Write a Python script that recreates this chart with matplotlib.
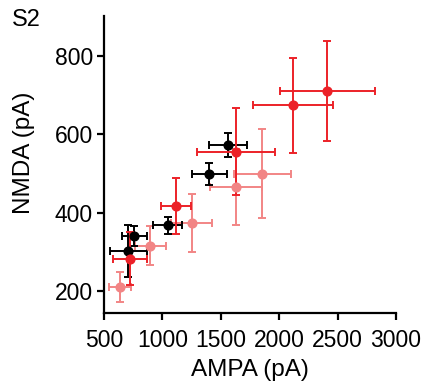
import matplotlib
matplotlib.use("Agg")
import matplotlib.pyplot as plt

plt.rcParams['font.family'] = ['Liberation Sans', 'DejaVu Sans']

# Black series
black_x = [1564, 1402, 1045, 760, 708]
black_y = [573, 500, 368, 340, 303]
black_xerr = [163, 151, 124, 110, 160]
black_yerr = [31, 28, 22, 25, 66]

# Red series
red_x = [2412, 2121, 1630, 1116, 723]
red_y = [711, 674, 556, 417, 283]
red_xerr = [405, 342, 335, 128, 148]
red_yerr = [127, 122, 111, 72, 68]

# Pink series
pink_x = [1856, 1630, 1251, 897, 637]
pink_y = [500, 466, 373, 316, 211]
pink_xerr = [245, 223, 174, 131, 90]
pink_yerr = [114, 97, 74, 49, 39]

xticks = [500, 1000, 1500, 2000, 2500, 3000]
yticks = [200, 400, 600, 800]

fig = plt.figure(figsize=(4.23, 3.81), dpi=100)
ax = fig.add_axes([104/423, (381-312.7)/381, (396-104)/423, (312.7-15.7)/381])

kw = dict(fmt='o', markersize=6.3, elinewidth=1.4, capsize=2.8, capthick=1.4, clip_on=False)
ax.errorbar(pink_x, pink_y, xerr=pink_xerr, yerr=pink_yerr, color='#F28585', ecolor='#F28585', **kw)
ax.errorbar(black_x, black_y, xerr=black_xerr, yerr=black_yerr, color='black', ecolor='black', **kw)
ax.errorbar(red_x, red_y, xerr=red_xerr, yerr=red_yerr, color='#EC2128', ecolor='#EC2128', **kw)

ax.set_xlim(500, 3000)
ax.set_ylim(145, 903)
ax.set_xticks(xticks)
ax.set_yticks(yticks)
for s in ['top', 'right']:
    ax.spines[s].set_visible(False)
for s in ['left', 'bottom']:
    ax.spines[s].set_linewidth(1.6)
ax.tick_params(direction='out', length=5, width=1.6, labelsize=16.5)
ax.tick_params(axis='x', pad=7)
ax.tick_params(axis='y', pad=3)
ax.set_xlabel('AMPA (pA)', fontsize=17.5, labelpad=5)
ax.set_ylabel('NMDA (pA)', fontsize=17.5, labelpad=14, y=0.54)
fig.text(12/423, 1-26/381, 'S2', fontsize=17, ha='left', va='baseline')

fig.savefig('out.png', dpi=100)
